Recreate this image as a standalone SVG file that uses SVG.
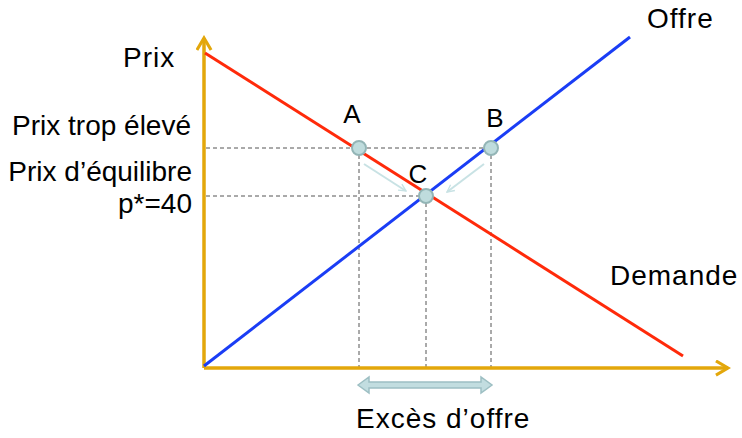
<svg xmlns="http://www.w3.org/2000/svg" width="742" height="438" viewBox="0 0 742 438">
<defs>
<style>
text{font-family:"Liberation Sans",Arial,sans-serif;font-size:28px;fill:#000}
.pl{font-size:26px}
.ws{letter-spacing:1px}
.axis{stroke:#E3A70B;stroke-width:3.5;fill:none}
.dash{stroke:#555;stroke-width:1;stroke-dasharray:4,3;fill:none}
.pt{fill:#BFDCDD;stroke:#93B5B6;stroke-width:2}
.hint{stroke:#C8E2E4;stroke-width:2;fill:none}
</style>
<marker id="ax" viewBox="0 0 12 12" refX="10" refY="6" markerWidth="17" markerHeight="17" markerUnits="userSpaceOnUse" orient="auto">
<path d="M1.5,1 L10,6 L1.5,11" fill="none" stroke="#E3A70B" stroke-width="2.2"/>
</marker>
<marker id="hh" viewBox="0 0 10 10" refX="9" refY="5" markerWidth="9" markerHeight="9" markerUnits="userSpaceOnUse" orient="auto">
<path d="M1,1 L9,5 L1,9" fill="none" stroke="#C8E2E4" stroke-width="1.5"/>
</marker>
</defs>
<g id="connectors">
<path class="dash" d="M206,148 H491 M206,196 H426 M359,148 V368 M426,196 V368 M491,148 V368"/>
<line x1="204" y1="368" x2="204" y2="38" class="axis" marker-end="url(#ax)"/>
<line x1="204" y1="368" x2="728" y2="368" class="axis" marker-end="url(#ax)"/>
<line id="demande-line" x1="205" y1="53" x2="683" y2="356" stroke="#FF2A0A" stroke-width="3"/>
<line id="offre-line" x1="204" y1="366" x2="630" y2="37" stroke="#1A3DF5" stroke-width="3"/>
<line class="hint" x1="364" y1="164" x2="406" y2="191" marker-end="url(#hh)"/>
<line class="hint" x1="484" y1="164" x2="447" y2="192" marker-end="url(#hh)"/>
<path d="M358,385 L369,377 V382 H481 V377 L492,385 L481,393 V388 H369 V393 Z" fill="#C2DDE0" stroke="#9DBFC3" stroke-width="1.5"/>
</g>
<g id="pointA"><circle class="pt" cx="359" cy="148" r="7"/><text class="pl" x="352" y="123" text-anchor="middle">A</text></g>
<g id="pointB"><circle class="pt" cx="491" cy="148" r="7"/><text class="pl" x="495" y="127" text-anchor="middle">B</text></g>
<g id="pointC"><circle class="pt" cx="426" cy="196" r="7"/><text class="pl" x="418" y="183" text-anchor="middle">C</text></g>
<g id="labels">
<text class="ws" x="123" y="67">Prix</text>
<text class="ws" x="647" y="28">Offre</text>
<text class="ws" x="610" y="285">Demande</text>
<text x="191" y="135" text-anchor="end">Prix trop élevé</text>
<text x="192" y="181" text-anchor="end">Prix d’équilibre</text>
<text x="192" y="213" text-anchor="end">p*=40</text>
<text class="ws" x="356" y="428">Excès d’offre</text>
</g>
</svg>
